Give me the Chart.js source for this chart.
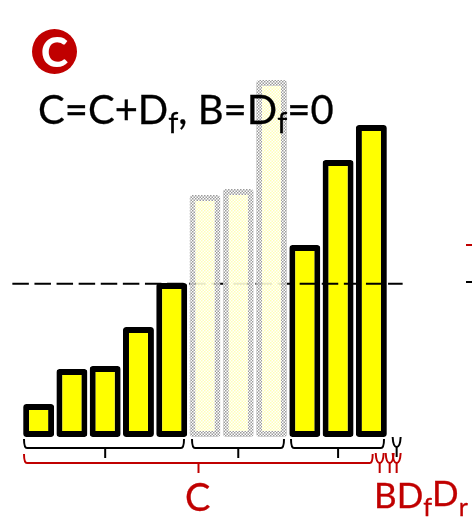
<!DOCTYPE html>
<html><head><meta charset="utf-8">
<script src="https://cdn.jsdelivr.net/npm/chart.js@4"></script>
<style>
html,body{margin:0;padding:0;background:#fff;overflow:hidden}
#wrap{position:relative;width:472px;height:525px;font-family:Lato,sans-serif}
canvas{position:absolute;left:0;top:0}
.t{position:absolute;white-space:nowrap;line-height:1;-webkit-text-stroke:.3px currentColor}
.t sub{font-size:.72em;vertical-align:baseline;position:relative;top:.3em;line-height:0}
#badge{position:absolute;left:32px;top:29px;width:45px;height:45px;border-radius:50%;background:#c00000;color:#fff;font-weight:900;font-size:41px;line-height:45px;text-align:center}
</style></head><body>
<div id="wrap">
<canvas id="c" width="472" height="525"></canvas>
<div id="badge">C</div>
<div class="t" id="eq" style="left:38px;top:89px;font-size:40px;color:#000">C=C+D<sub>f</sub>, B=D<sub>f</sub>=0</div>
<div class="t" style="left:185px;top:477px;font-size:38px;color:#c00000">C</div>
<div class="t" style="left:374px;top:477px;font-size:35px;color:#c00000">BD<sub>f</sub><span style="position:relative;top:-2px">D</span><sub>r</sub></div>
</div>
<script>
const categories=['1','2','3','4','5','6','7','8','9','10','11'];
const solidHeights=[33,68,71,110,154,null,null,null,192,277,312];
const fadedHeights=[null,null,null,null,null,242,248,357,null,null,null];
const referenceLevel=153.3;
const lineEnds=[-0.79,10.94];
const blackGroups=[[0,4,24,184],[5,7,192,284],[8,10,291,384]];

function pattern(base,cell){
  const p=document.createElement('canvas');p.width=p.height=3;
  const g=p.getContext('2d');
  g.fillStyle=base;g.fillRect(0,0,3,3);
  g.fillStyle=cell;g.fillRect(0,0,1.5,1.5);g.fillRect(1.5,1.5,1.5,1.5);
  return document.createElement('canvas').getContext('2d').createPattern(p,'repeat');
}
const pale=pattern('rgba(255,255,255,.85)','rgba(255,255,175,.9)');
const grey=pattern('rgba(255,255,255,.85)','rgba(150,150,150,.95)');

function bracket(g,x0,x1,tip,yTop,yMid,yBot,col){
  g.strokeStyle=col;g.lineWidth=2;g.lineJoin='round';
  g.beginPath();
  g.moveTo(x0,yTop);g.quadraticCurveTo(x0,yMid,x0+3,yMid);
  g.lineTo(x1-3,yMid);g.quadraticCurveTo(x1,yMid,x1,yTop);
  g.stroke();
  g.beginPath();g.moveTo(tip,yMid);g.lineTo(tip,yBot);g.stroke();
}
function fork(g,x,yTop,yMid,yBot,col){
  g.strokeStyle=col;g.lineWidth=2;
  g.beginPath();g.moveTo(x-4,yTop);g.quadraticCurveTo(x-3.5,yMid,x,yMid);g.quadraticCurveTo(x+3.5,yMid,x+4,yTop);g.stroke();
  g.beginPath();g.moveTo(x,yMid);g.lineTo(x,yBot);g.stroke();
}
const annot={id:'annot',afterDatasetsDraw(ch){
  const g=ch.ctx,X=ch.scales.x,Y=ch.scales.x2;
  g.save();
  blackGroups.forEach(([a,b,x0,x1])=>{
    bracket(g,x0,x1,(X.getPixelForValue(a)+X.getPixelForValue(b))/2,439,448,458,'#000');
  });
  fork(g,Y.getPixelForValue(10.76),437,447,457,'#000');
  bracket(g,24,Y.getPixelForValue(10.04),X.getPixelForValue(5)-6.5,454,463,473,'#c00000');
  fork(g,Y.getPixelForValue(10.25),453,463,473,'#c00000');
  fork(g,Y.getPixelForValue(10.55),453,463,473,'#c00000');
  fork(g,Y.getPixelForValue(10.76),453,463,473,'#c00000');
  g.lineWidth=2;
  g.strokeStyle='#c00000';g.beginPath();g.moveTo(466,245);g.lineTo(472,245);g.stroke();
  g.strokeStyle='#000';g.beginPath();g.moveTo(466,282);g.lineTo(472,282);g.stroke();
  g.restore();
}};
const barCommon={grouped:false,borderWidth:6,borderRadius:3,borderSkipped:false,barPercentage:.93,categoryPercentage:1};
new Chart(document.getElementById('c'),{
  type:'bar',
  plugins:[annot],
  data:{labels:categories,datasets:[
    {...barCommon,data:solidHeights,order:3,backgroundColor:'#ffff00',borderColor:'#000'},
    {type:'line',xAxisID:'x2',data:lineEnds.map(x=>({x:x,y:referenceLevel})),borderColor:'#000',borderWidth:2,borderDash:[16.5,5.6],pointRadius:0,clip:false,order:2},
    {...barCommon,data:fadedHeights,order:1,backgroundColor:pale,borderColor:grey}
  ]},
  options:{responsive:false,animation:false,
    layout:{padding:{left:22,right:84,top:37,bottom:88}},
    plugins:{legend:{display:false},tooltip:{enabled:false}},
    scales:{
      x:{display:false,offset:true},
      x2:{type:'linear',display:false,min:-.5,max:10.5,offset:false},
      y:{display:false,min:0,max:400}
    }}
});
</script>
</body></html>
